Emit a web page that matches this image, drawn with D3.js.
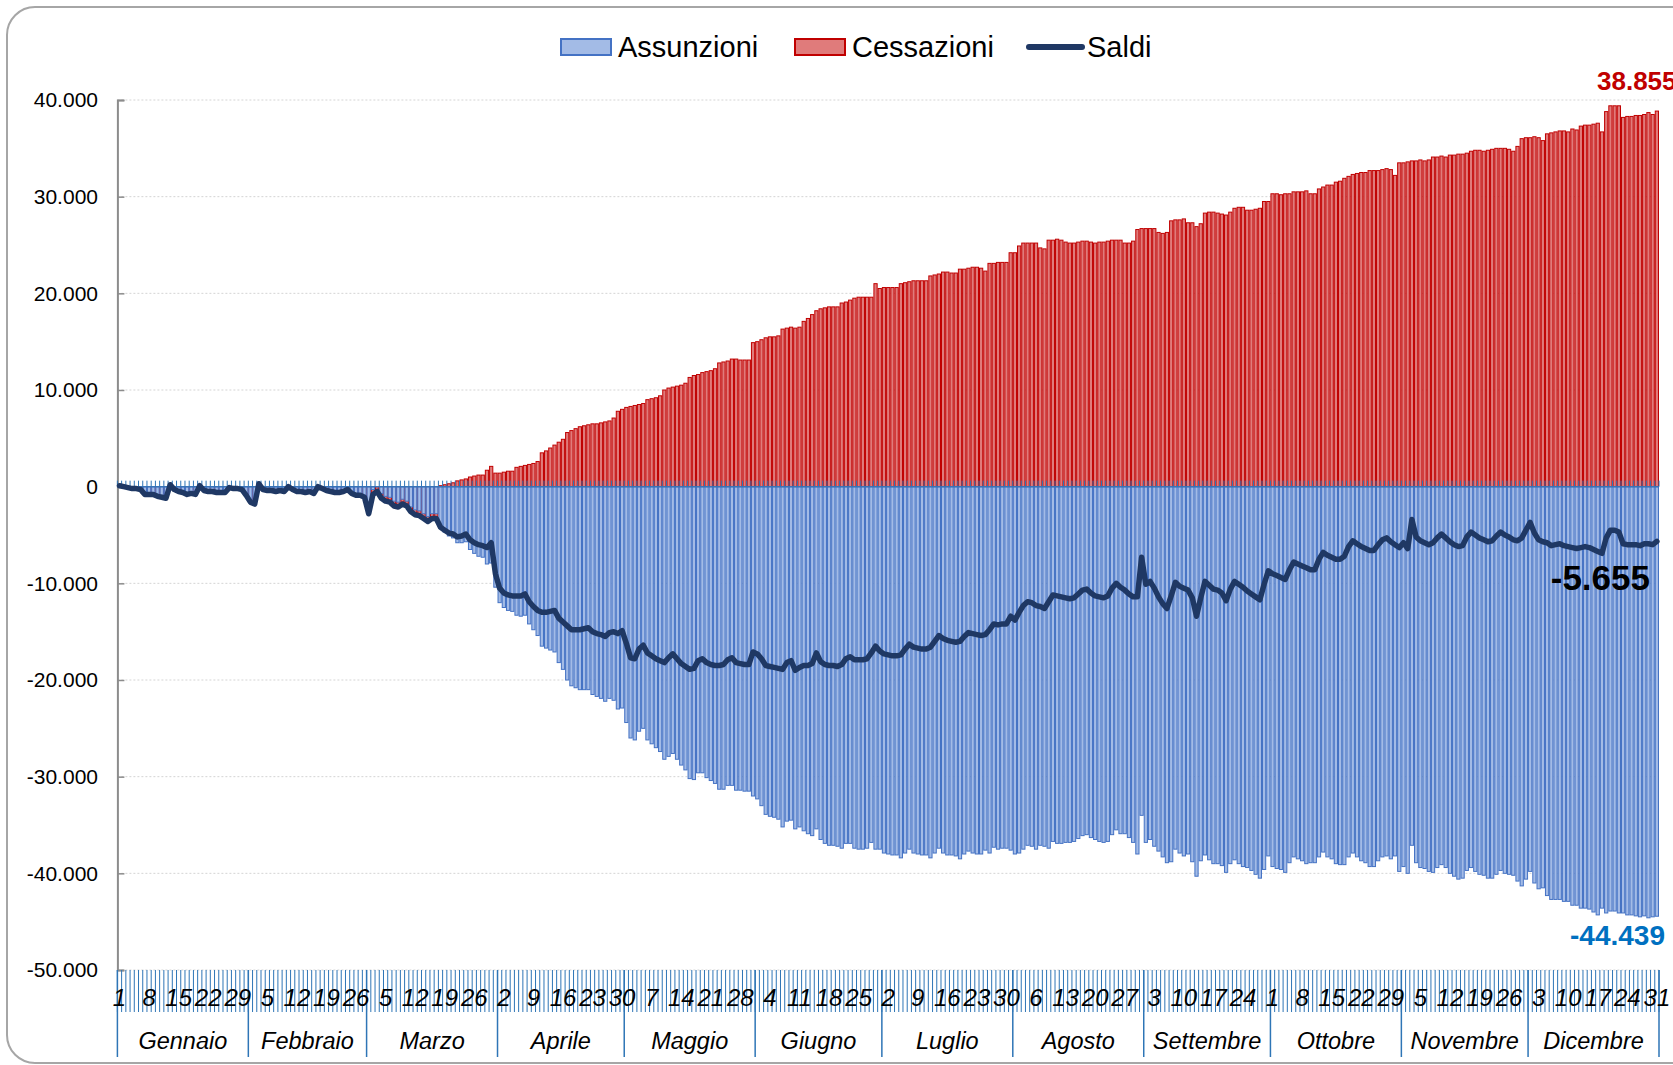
<!DOCTYPE html>
<html>
<head>
<meta charset="utf-8">
<script src="https://cdn.jsdelivr.net/npm/d3@7"></script>
<style>
  body { margin: 0; background: #fff; }
  text { font-family: "Liberation Sans", Arial, sans-serif; }
</style>
</head>
<body>
<script>
// month names and lengths (category axis)
var months = ["Gennaio", "Febbraio", "Marzo", "Aprile", "Maggio", "Giugno",
              "Luglio", "Agosto", "Settembre", "Ottobre", "Novembre", "Dicembre"];
var monthDays = [31, 28, 31, 30, 31, 30, 31, 31, 30, 31, 30, 31];

// y axis ticks
var yTicks = [40000, 30000, 20000, 10000, 0, -10000, -20000, -30000, -40000, -50000];

// daily values, one row per month
var assunzioni = [
  100, 0, 0, 0, 0, -100, -600, -600, -600, -800, -900, -1000, 200, -100, -300, -400, -600, -500, -600, 100, -200, -300, -300, -400, -400, -400, 0, 0, 0, -100, -700,
  -1400, -1600, 300, -100, -200, -200, -300, -200, -300, 0, -100, -300, -300, -400, -300, -500, 0, 0, -200, -300, -400, -400, -300, -100, -500, -700, -700, -900,
  -2300, -300, 0, -700, -1000, -1100, -1500, -1600, -1300, -1500, -2100, -2400, -2500, -2800, -3100, -2800, -2800, -4300, -4700, -5100, -5300, -5800, -5800, -5700, -6500, -6900, -7200, -7300, -8000, -7900, -10400,
  -12000, -12500, -12800, -12900, -13300, -13400, -13300, -14200, -14800, -15400, -16500, -16700, -16900, -17100, -18200, -18900, -20000, -20600, -20800, -21000, -21000, -21000, -21500, -21700, -21900, -22200, -21900, -22100, -23000, -22900,
  -24400, -26000, -26200, -25300, -25000, -26200, -26600, -27000, -27400, -28200, -27900, -27600, -28200, -28800, -29300, -30200, -30300, -29600, -29600, -30100, -30400, -30700, -31300, -31300, -30900, -30900, -31400, -31400, -31500, -31500, -32000,
  -32300, -33000, -33900, -34100, -34200, -34400, -35200, -34600, -34500, -35400, -35200, -35600, -35900, -36100, -35400, -36500, -36900, -37100, -37100, -37200, -37400, -36900, -36900, -37400, -37500, -37500, -37400, -36800, -37500, -37500,
  -37900, -38000, -38100, -38100, -38400, -37900, -37500, -37900, -38000, -38100, -38100, -38400, -37900, -37400, -37900, -38100, -38100, -38200, -38500, -38000, -37700, -37900, -38000, -38000, -37600, -37900, -37300, -37500, -37400, -37400, -37600,
  -38000, -37900, -37500, -37100, -37200, -37500, -37100, -37200, -37400, -36700, -36900, -36900, -36800, -36800, -36700, -36400, -36100, -36000, -36300, -36500, -36700, -36800, -36700, -36000, -35500, -35900, -35900, -36300, -36800, -38000, -34000,
  -36800, -36500, -37200, -37700, -38300, -38900, -38800, -37500, -37900, -38200, -38000, -38800, -40300, -38700, -38100, -38600, -39000, -39000, -39200, -39900, -39000, -38600, -39000, -39300, -39400, -39700, -40100, -40500, -39600, -38200,
  -39300, -39500, -39600, -39900, -38900, -38300, -38500, -38700, -39000, -38900, -38900, -38300, -37800, -38300, -38500, -39000, -39100, -39100, -38300, -37900, -38300, -38700, -38900, -39300, -39300, -38700, -38300, -38200, -38500, -38200, -39800,
  -39300, -40000, -37100, -38900, -39400, -39500, -39800, -39900, -39400, -39100, -39400, -40000, -40300, -40600, -40500, -39700, -39400, -39800, -40100, -40200, -40500, -40500, -40100, -39700, -40000, -40100, -40200, -40800, -41300, -40600,
  -39800, -41000, -41600, -41500, -42300, -42700, -42700, -42700, -42900, -42900, -43300, -43300, -43600, -43600, -43700, -44000, -44300, -43600, -44100, -43900, -43900, -44100, -44100, -44300, -44300, -44400, -44500, -44400, -44600, -44500, -44439
];

var cessazioni = [
  0, 0, 0, -100, -100, -200, -700, -700, -700, -900, -1000, -1100, 0, -200, -400, -500, -700, -600, -700, 0, -300, -400, -400, -500, -500, -500, 0, -100, -100, -200, -800,
  -1500, -1700, 0, -200, -300, -300, -400, -300, -400, 0, -200, -400, -400, -500, -400, -600, 0, -100, -300, -400, -500, -500, -400, -200, -600, -800, -800, -1000,
  -2600, -600, -300, -1000, -1300, -1400, -1800, -1900, -1600, -1800, -2400, -2700, -2800, -3100, -3400, -3100, -3100, 100, 200, 300, 400, 600, 700, 800, 1000, 1100, 1200, 1200, 1700, 2100, 1400,
  1400, 1500, 1600, 1600, 2000, 2100, 2200, 2300, 2400, 2600, 3500, 3700, 4000, 4300, 4600, 4900, 5600, 5800, 6000, 6200, 6300, 6400, 6500, 6500, 6600, 6700, 6800, 7100, 7800, 8000,
  8200, 8300, 8400, 8500, 8600, 9000, 9100, 9200, 9400, 10000, 10200, 10300, 10400, 10500, 10700, 11300, 11500, 11600, 11800, 11900, 12000, 12200, 12800, 12900, 13000, 13200, 13200, 13100, 13100, 13100, 14900,
  15000, 15200, 15400, 15500, 15500, 15600, 16300, 16400, 16500, 16400, 16500, 17100, 17400, 17800, 18200, 18400, 18500, 18600, 18600, 18600, 19000, 19100, 19300, 19500, 19600, 19600, 19600, 19600, 21000, 20500,
  20600, 20600, 20600, 20600, 21000, 21100, 21200, 21300, 21300, 21300, 21300, 21800, 21900, 22000, 22200, 22200, 22100, 22100, 22500, 22500, 22600, 22700, 22700, 22600, 22300, 23100, 23100, 23200, 23200, 23200, 24200,
  24200, 24900, 25200, 25200, 25200, 25200, 24700, 24600, 25500, 25500, 25600, 25500, 25300, 25200, 25200, 25300, 25400, 25400, 25300, 25200, 25300, 25300, 25400, 25500, 25500, 25500, 25200, 25200, 25400, 26600, 26700,
  26700, 26700, 26700, 26300, 26200, 26300, 27500, 27600, 27600, 27700, 27300, 27300, 26900, 27200, 28300, 28400, 28400, 28300, 28200, 28100, 28400, 28800, 28900, 28900, 28600, 28600, 28700, 28800, 29500, 29500,
  30300, 30300, 30200, 30300, 30300, 30500, 30500, 30500, 30600, 30300, 30300, 30800, 31000, 31200, 31200, 31500, 31600, 31900, 32100, 32300, 32400, 32500, 32500, 32700, 32700, 32700, 32800, 32900, 32800, 32200, 33500,
  33500, 33600, 33700, 33700, 33800, 33700, 33800, 34100, 34100, 34200, 34100, 34300, 34300, 34400, 34400, 34500, 34700, 34800, 34800, 34700, 34800, 34900, 35000, 35000, 35000, 34900, 34700, 35200, 36000, 36100,
  36100, 36200, 36100, 35800, 36500, 36600, 36700, 36800, 36800, 36700, 37000, 36900, 37300, 37400, 37400, 37500, 37600, 36700, 38800, 39400, 39400, 39400, 38200, 38300, 38300, 38400, 38400, 38500, 38700, 38500, 38855
];

var saldi = [
  100, 0, -100, -200, -200, -300, -800, -800, -800, -1000, -1100, -1200, 200, -300, -500, -600, -800, -700, -800, 100, -400, -500, -500, -600, -600, -600, -100, -200, -200, -300, -900,
  -1600, -1800, 300, -300, -400, -400, -500, -400, -500, 0, -300, -500, -500, -600, -500, -700, 0, -200, -400, -500, -600, -600, -500, -300, -700, -900, -900, -1100,
  -2800, -800, -500, -1200, -1500, -1600, -2000, -2100, -1800, -2000, -2600, -2900, -3000, -3300, -3600, -3300, -3300, -4200, -4500, -4800, -4900, -5200, -5100, -4900, -5500, -5800, -6000, -6100, -6300, -5800, -9000,
  -10500, -11000, -11200, -11300, -11300, -11300, -11100, -11900, -12400, -12800, -13000, -13000, -12900, -12800, -13600, -14000, -14400, -14800, -14800, -14800, -14700, -14600, -15000, -15200, -15300, -15500, -15100, -15000, -15200, -14900,
  -16200, -17700, -17800, -16800, -16400, -17200, -17500, -17800, -18000, -18200, -17700, -17300, -17800, -18300, -18600, -18900, -18800, -18000, -17800, -18200, -18400, -18500, -18500, -18400, -17900, -17700, -18200, -18300, -18400, -18400, -17100,
  -17300, -17800, -18500, -18600, -18700, -18800, -18900, -18200, -18000, -19000, -18700, -18500, -18500, -18300, -17200, -18100, -18400, -18500, -18500, -18600, -18400, -17800, -17600, -17900, -17900, -17900, -17800, -17200, -16500, -17000,
  -17300, -17400, -17500, -17500, -17400, -16800, -16300, -16600, -16700, -16800, -16800, -16600, -16000, -15400, -15700, -15900, -16000, -16100, -16000, -15500, -15100, -15200, -15300, -15400, -15300, -14800, -14200, -14300, -14200, -14200, -13400,
  -13800, -13000, -12300, -11900, -12000, -12300, -12400, -12600, -11900, -11200, -11300, -11400, -11500, -11600, -11500, -11100, -10700, -10600, -11000, -11300, -11400, -11500, -11300, -10500, -10000, -10400, -10700, -11100, -11400, -11400, -7300,
  -10100, -9800, -10500, -11400, -12100, -12600, -11300, -9900, -10300, -10500, -10700, -11500, -13400, -11500, -9800, -10200, -10600, -10700, -11000, -11800, -10600, -9800, -10100, -10400, -10800, -11100, -11400, -11700, -10100, -8700,
  -9000, -9200, -9400, -9600, -8600, -7800, -8000, -8200, -8400, -8600, -8600, -7500, -6800, -7100, -7300, -7500, -7500, -7200, -6200, -5600, -5900, -6200, -6400, -6600, -6600, -6000, -5500, -5300, -5700, -6000, -6300,
  -5800, -6400, -3400, -5200, -5600, -5800, -6000, -5800, -5300, -4900, -5300, -5700, -6000, -6200, -6100, -5200, -4700, -5000, -5300, -5500, -5700, -5600, -5100, -4700, -5000, -5200, -5500, -5600, -5300, -4500,
  -3700, -4800, -5500, -5700, -5800, -6100, -6000, -5900, -6100, -6200, -6300, -6400, -6300, -6200, -6300, -6500, -6700, -6900, -5300, -4500, -4500, -4700, -5900, -6000, -6000, -6000, -6100, -5900, -5900, -6000, -5655
];

// build the day categories from the month lengths
var days = [];
monthDays.forEach(function(n, m) {
    for (var d = 1; d <= n; d++) days.push({month: m, day: d});
});

var W = 1673, H = 1065;
var plotL = 117.4, plotR = 1659, plotT = 100, plotB = 970;

var it = d3.formatLocale({decimal: ",", thousands: ".", grouping: [3], currency: ["", "€"], minus: "-"});
var fmt = it.format(",d");

var x = d3.scaleBand()
    .domain(d3.range(days.length))
    .range([plotL, plotR])
    .padding(0);

var y = d3.scaleLinear()
    .domain([-50000, 40000])
    .range([plotB, plotT]);

var bw = x.bandwidth();

var svg = d3.select("body").append("svg")
    .attr("width", W)
    .attr("height", H);

svg.append("rect").attr("width", W).attr("height", H).attr("fill", "#fff");

// rounded chart border
svg.append("rect")
    .attr("x", 7).attr("y", 7)
    .attr("width", 1720).attr("height", 1056)
    .attr("rx", 28)
    .attr("fill", "none")
    .attr("stroke", "#a6a6a6")
    .attr("stroke-width", 2);

// gridlines
svg.append("g").selectAll("line")
    .data(yTicks)
    .enter().append("line")
    .attr("x1", plotL).attr("x2", plotR)
    .attr("y1", function(d) { return y(d); })
    .attr("y2", function(d) { return y(d); })
    .attr("stroke", "#d4d4d4")
    .attr("stroke-dasharray", "2,2");

// y axis
var yAxis = svg.append("g")
    .attr("transform", "translate(" + plotL + ",0)")
    .call(d3.axisRight(y).tickValues(yTicks).tickSize(7).tickFormat(""));
yAxis.select(".domain").attr("stroke", "#8c8c8c").attr("stroke-width", 2);
yAxis.selectAll(".tick line").attr("stroke", "#8c8c8c").attr("stroke-width", 1.5);

svg.append("g").selectAll("text")
    .data(yTicks)
    .enter().append("text")
    .attr("x", 98)
    .attr("y", function(d) { return y(d); })
    .attr("dy", "0.35em")
    .attr("text-anchor", "end")
    .attr("font-size", 21)
    .attr("fill", "#000")
    .text(function(d) { return fmt(d); });

// bars: cessazioni first, assunzioni on top
function bars(values, fill, stroke) {
    svg.append("g").selectAll("rect")
        .data(values)
        .enter().append("rect")
        .attr("x", function(d, i) { return x(i) + 0.5; })
        .attr("width", bw - 1)
        .attr("y", function(d) { return y(Math.max(0, d)); })
        .attr("height", function(d) { return Math.abs(y(d) - y(0)); })
        .attr("fill", fill)
        .attr("stroke", stroke)
        .attr("stroke-width", 1);
}
bars(cessazioni, "#e07b7b", "#c00000");
bars(assunzioni, "#a3bbe6", "#4472c4");

// zero axis with ticks
var zero = svg.append("g");
zero.append("line")
    .attr("x1", plotL).attr("x2", plotR)
    .attr("y1", y(0)).attr("y2", y(0))
    .attr("stroke", "#3a73b8").attr("stroke-width", 1.5);
zero.selectAll(".zt")
    .data(d3.range(days.length + 1))
    .enter().append("line")
    .attr("x1", function(i) { return plotL + i * bw; })
    .attr("x2", function(i) { return plotL + i * bw; })
    .attr("y1", y(0) - 6).attr("y2", y(0))
    .attr("stroke", "#2e75b6").attr("stroke-width", 1);

// saldi line
var line = d3.line()
    .x(function(d, i) { return x(i) + bw / 2; })
    .y(function(d) { return y(d); });

svg.append("path")
    .datum(saldi)
    .attr("d", line)
    .attr("fill", "none")
    .attr("stroke", "#1f3864")
    .attr("stroke-width", 5.5)
    .attr("stroke-linejoin", "round")
    .attr("stroke-linecap", "round");

// category axis: day separators
svg.append("g").selectAll("line")
    .data(d3.range(days.length + 1))
    .enter().append("line")
    .attr("x1", function(i) { return plotL + i * bw; })
    .attr("x2", function(i) { return plotL + i * bw; })
    .attr("y1", plotB).attr("y2", 1012)
    .attr("stroke", "#2e75b6").attr("stroke-width", 1);

// month separators
var starts = [0];
monthDays.forEach(function(n, m) { starts.push(starts[m] + n); });

svg.append("g").selectAll("line")
    .data(starts)
    .enter().append("line")
    .attr("x1", function(i) { return plotL + i * bw; })
    .attr("x2", function(i) { return plotL + i * bw; })
    .attr("y1", plotB).attr("y2", 1057)
    .attr("stroke", "#2e75b6").attr("stroke-width", 1.5);

// day labels every 7 days
svg.append("g").selectAll("text")
    .data(days.filter(function(d, i) { return i % 7 === 0; }))
    .enter().append("text")
    .attr("x", function(d) { return x(days.indexOf(d)) + bw / 2; })
    .attr("y", 1006)
    .attr("text-anchor", "middle")
    .attr("font-size", 24)
    .attr("font-style", "italic")
    .text(function(d) { return d.day; });

// month labels
svg.append("g").selectAll("text")
    .data(months)
    .enter().append("text")
    .attr("x", function(d, m) { return plotL + (starts[m] + starts[m + 1]) / 2 * bw; })
    .attr("y", 1049)
    .attr("text-anchor", "middle")
    .attr("font-size", 23.5)
    .attr("font-style", "italic")
    .text(function(d) { return d; });

// end value labels
var last = days.length - 1;
svg.append("text")
    .attr("x", x(last) + bw - 62)
    .attr("y", y(cessazioni[last]) - 21)
    .attr("font-size", 26).attr("font-weight", "bold")
    .attr("fill", "#c00000")
    .text(fmt(cessazioni[last]));

svg.append("text")
    .attr("x", x(last) + bw - 9)
    .attr("y", y(saldi[last]) + 49)
    .attr("text-anchor", "end")
    .attr("font-size", 35).attr("font-weight", "bold")
    .attr("fill", "#000")
    .text(fmt(saldi[last]));

svg.append("text")
    .attr("x", x(last) + bw + 6)
    .attr("y", y(assunzioni[last]) + 29)
    .attr("text-anchor", "end")
    .attr("font-size", 28).attr("font-weight", "bold")
    .attr("fill", "#0070c0")
    .text(fmt(assunzioni[last]));

// legend
var legend = svg.append("g");
legend.append("rect").attr("x", 561).attr("y", 39).attr("width", 50).attr("height", 16)
    .attr("fill", "#a3bbe6").attr("stroke", "#4472c4").attr("stroke-width", 2);
legend.append("text").attr("x", 618).attr("y", 57).attr("font-size", 29).text("Assunzioni");
legend.append("rect").attr("x", 795).attr("y", 39).attr("width", 50).attr("height", 16)
    .attr("fill", "#e07b7b").attr("stroke", "#c00000").attr("stroke-width", 2);
legend.append("text").attr("x", 852).attr("y", 57).attr("font-size", 29).text("Cessazioni");
legend.append("line").attr("x1", 1029).attr("x2", 1082).attr("y1", 47).attr("y2", 47)
    .attr("stroke", "#1f3864").attr("stroke-width", 6).attr("stroke-linecap", "round");
legend.append("text").attr("x", 1087).attr("y", 57).attr("font-size", 29).text("Saldi");
</script>
</body>
</html>
